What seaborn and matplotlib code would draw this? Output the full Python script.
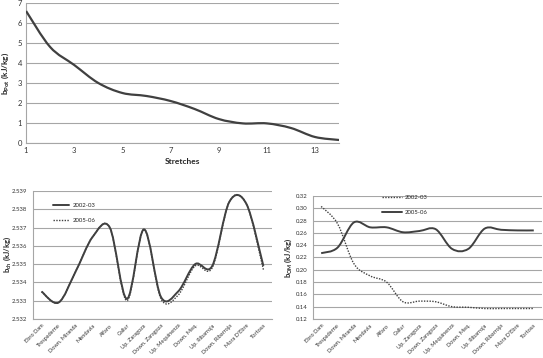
import numpy as np
import matplotlib
matplotlib.use("Agg")
import matplotlib.pyplot as plt
from matplotlib.path import Path
from matplotlib.patches import PathPatch
from matplotlib.lines import Line2D
import seaborn as sns

# --- data ---
stretches = list(range(1, 15))
b_pot = [6.6, 4.8, 3.9, 3.0, 2.5, 2.35, 2.1, 1.7, 1.2, 0.98, 0.98, 0.75, 0.3, 0.15]

sites = ["Ebro Dam", "Trespaderne", "Down. Miranda", "Mendavia", "Alfaro", "Gallur",
         "Up. Zaragoza", "Down. Zaragoza", "Up. Mequinenza", "Down. Meq.",
         "Up. Ribarroja", "Down. Ribarroja", "Mora D'Ebre", "Tortosa"]

b_ch_0203 = [2.5335, 2.5329, 2.5346, 2.5365, 2.5370, 2.5331, 2.5369, 2.5332,
             2.5335, 2.5350, 2.5349, 2.5384, 2.5383, 2.5349]
b_ch_0506 = [2.5335, 2.5329, 2.5346, 2.5365, 2.5370, 2.5330, 2.5369, 2.5331,
             2.5333, 2.5349, 2.5348, 2.5384, 2.5383, 2.5347]

b_om_0203 = [0.303, 0.275, 0.210, 0.190, 0.180, 0.148, 0.149, 0.148,
             0.140, 0.139, 0.137, 0.137, 0.137, 0.137]
b_om_0506 = [0.227, 0.236, 0.277, 0.269, 0.269, 0.261, 0.263, 0.266,
             0.234, 0.234, 0.267, 0.265, 0.264, 0.264]

LINE = "#404040"
GRID = "#a6a6a6"

sns.set_style("white")
plt.rcParams["font.family"] = ["Lato", "DejaVu Sans"]
plt.rcParams["mathtext.default"] = "regular"


def smooth_line(ax, x, y, ls="-", lw=1.5):
    """Excel-style smoothed line: Bezier through the points"""
    p = np.column_stack([x, y]).astype(float)
    n = len(p)
    verts = [p[0]]
    codes = [Path.MOVETO]
    for i in range(n - 1):
        p0 = p[i - 1] if i > 0 else p[i]
        p3 = p[i + 2] if i + 2 < n else p[i + 1]
        c1 = p[i] + (p[i + 1] - p0) / 6
        c2 = p[i + 1] - (p3 - p[i]) / 6
        verts += [c1, c2, p[i + 1]]
        codes += [Path.CURVE4] * 3
    patch = PathPatch(Path(verts, codes), facecolor="none", edgecolor=LINE,
                      lw=lw, linestyle=ls, capstyle="butt", zorder=3)
    ax.add_patch(patch)


def style_axes(ax):
    ax.grid(axis="y", color=GRID, lw=0.8)
    ax.set_axisbelow(True)
    for s in ["top", "right"]:
        ax.spines[s].set_visible(False)
    ax.spines["left"].set_color(GRID)
    ax.spines["bottom"].set_color(GRID)
    ax.spines["left"].set_linewidth(0.8)
    ax.spines["bottom"].set_linewidth(0.8)


fig = plt.figure(figsize=(5.43, 3.58), dpi=100)

# top panel
ax1 = fig.add_axes([0.048, 0.6006, 0.5764, 0.391])
style_axes(ax1)
smooth_line(ax1, stretches, b_pot, lw=1.6)
ax1.set_xlim(1, 14)
ax1.set_ylim(0, 7)
ax1.set_xticks([1, 3, 5, 7, 9, 11, 13])
ax1.set_yticks(range(0, 8))
ax1.tick_params(axis="both", labelsize=5.5, colors="#333333", length=0, pad=3)
ax1.set_xlabel("Stretches", fontsize=6, fontweight="bold", labelpad=3)
ax1.set_ylabel("b$_{Pot}$ (kJ/kg)", fontsize=6, fontweight="bold")
ax1.yaxis.set_label_coords(-0.047, 0.5)


def category_axis(ax):
    pos = np.arange(len(sites))
    ax.set_xlim(-0.5, len(sites) - 0.5)
    ax.set_xticks(pos)
    ax.set_xticklabels(sites, rotation=45, ha="right", rotation_mode="anchor", fontsize=4.1)
    ax.set_xticks(np.arange(-0.5, len(sites)), minor=True)
    ax.tick_params(axis="x", which="major", length=0, pad=3, colors="#333333")
    ax.tick_params(axis="x", which="minor", length=2.5, color=GRID, width=0.8)
    ax.tick_params(axis="y", length=2.5, color=GRID, width=0.8, labelsize=4.3,
                   labelcolor="#333333", pad=1.5)
    return pos


# bottom-left panel
ax2 = fig.add_axes([0.0608, 0.109, 0.440, 0.3575])
style_axes(ax2)
pos = category_axis(ax2)
smooth_line(ax2, pos, b_ch_0203, ls="-", lw=1.4)
smooth_line(ax2, pos, b_ch_0506, ls=(0, (1, 1)), lw=1.0)
ax2.set_ylim(2.532, 2.539)
ax2.set_yticks(np.arange(2.532, 2.5391, 0.001))
ax2.yaxis.set_major_formatter(matplotlib.ticker.FormatStrFormatter("%.3f"))
ax2.set_ylabel("b$_{ch}$ (kJ/kg)", fontsize=5.5, fontweight="bold")
ax2.yaxis.set_label_coords(-0.085, 0.5)
h2 = [Line2D([], [], color=LINE, lw=1.4, ls="-"),
      Line2D([], [], color=LINE, lw=1.0, ls=(0, (1, 1)))]
ax2.legend(h2, ["2002-03", "2005-06"], loc="upper left", bbox_to_anchor=(0.06, 0.95),
           frameon=False, fontsize=4.3, handlelength=2.8, handletextpad=0.5,
           labelspacing=1.6)

# bottom-right panel
ax3 = fig.add_axes([0.5764, 0.109, 0.4217, 0.3436])
style_axes(ax3)
pos = category_axis(ax3)
smooth_line(ax3, pos, b_om_0203, ls=(0, (1, 1)), lw=1.0)
smooth_line(ax3, pos, b_om_0506, ls="-", lw=1.4)
ax3.set_ylim(0.12, 0.32)
ax3.set_yticks(np.arange(0.12, 0.3201, 0.02))
ax3.yaxis.set_major_formatter(matplotlib.ticker.FormatStrFormatter("%.2f"))
ax3.set_ylabel("b$_{OM}$ (kJ/kg)", fontsize=5.5, fontweight="bold")
ax3.yaxis.set_label_coords(-0.085, 0.5)
h3 = [Line2D([], [], color=LINE, lw=1.0, ls=(0, (1, 1))),
      Line2D([], [], color=LINE, lw=1.4, ls="-")]
ax3.legend(h3, ["2002-03", "2005-06"], loc="upper left", bbox_to_anchor=(0.28, 1.05),
           frameon=False, fontsize=4.3, handlelength=3.2, handletextpad=0.5,
           labelspacing=1.6)

fig.savefig("out.png", dpi=100)
